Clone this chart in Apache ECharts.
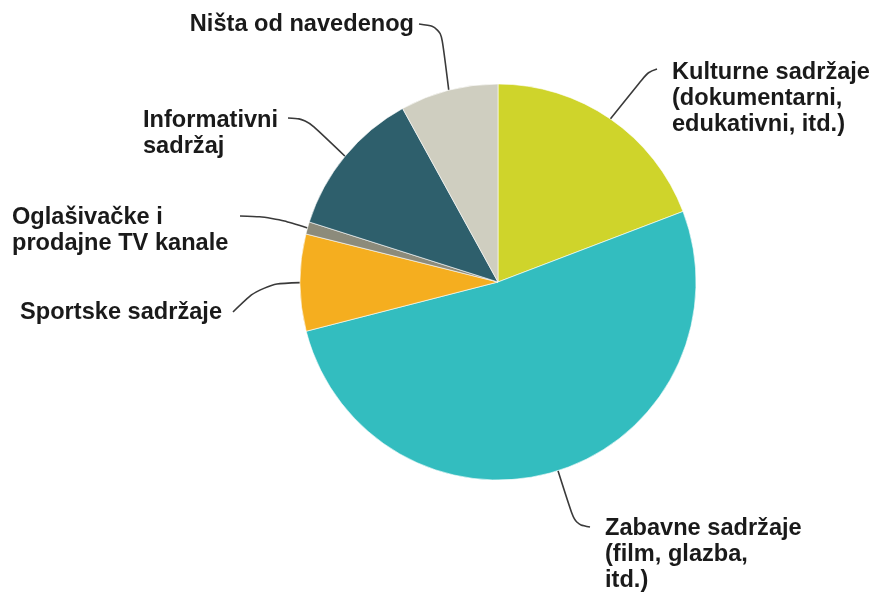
<!DOCTYPE html>
<html>
<head>
<meta charset="utf-8">
<style>
  html, body { margin: 0; padding: 0; background: #ffffff; }
  #chart { width: 875px; height: 593px; }
</style>
<script src="https://cdn.jsdelivr.net/npm/echarts@6/dist/echarts.min.js"></script>
</head>
<body>
<div id="chart"></div>
<script>
// Categories (label text, line breaks as drawn) and their shares in percent
const categories = [
  'Kulturne sadržaje\n(dokumentarni,\nedukativni, itd.)',
  'Zabavne sadržaje\n(film, glazba,\nitd.)',
  'Sportske sadržaje',
  'Oglašivačke i\nprodajne TV kanale',
  'Informativni\nsadržaj',
  'Ništa od navedenog'
];
const shares = [19.2, 51.8, 7.9, 1.0, 12.1, 8.0];
const sliceColors = ['#CFD42B', '#33BDBF', '#F5AE1F', '#8C8B7B', '#2E5F6C', '#CFCEC0'];

// Where each label's text block sits and how its leader line bends toward it
const labelSpots = [
  { x: 672, y: 59,  align: 'left',  elbow: [648, 72],  end: [657, 69] },
  { x: 605, y: 515, align: 'left',  elbow: [575, 524], end: [590, 527] },
  { x: 222, y: 299, align: 'right', elbow: [262, 284], end: [233, 312] },
  { x: 12,  y: 204, align: 'left',  elbow: [272, 217], end: [240, 216] },
  { x: 143, y: 107, align: 'left',  elbow: [306, 119], end: [288, 118] },
  { x: 414, y: 11,  align: 'right', elbow: [441, 27],  end: [419, 24] }
];

const chart = echarts.init(document.getElementById('chart'), null, { renderer: 'canvas' });

chart.setOption({
  animation: false,
  backgroundColor: '#ffffff',
  series: [{
    type: 'pie',
    center: [498, 282],
    radius: 198,
    startAngle: 90,
    clockwise: true,
    avoidLabelOverlap: false,
    itemStyle: { borderColor: '#ffffff', borderWidth: 0.6 },
    label: {
      show: true,
      position: 'outside',
      formatter: '{b}',
      color: '#1a1a1a',
      fontFamily: '"Liberation Sans", Arial, sans-serif',
      fontWeight: 'bold',
      fontSize: 23.6,
      lineHeight: 26
    },
    labelLine: {
      show: true,
      smooth: 0.35,
      length: 40,
      length2: 20,
      lineStyle: { color: '#3a3a3a', width: 1.6 }
    },
    labelLayout: function (params) {
      const s = labelSpots[params.dataIndex];
      const p0 = params.labelLinePoints ? params.labelLinePoints[0] : s.elbow;
      return {
        x: s.x,
        y: s.y,
        align: s.align,
        verticalAlign: 'top',
        labelLinePoints: [[p0[0], p0[1]], s.elbow, s.end]
      };
    },
    data: categories.map((name, i) => ({
      name: name,
      value: shares[i],
      itemStyle: { color: sliceColors[i] }
    }))
  }]
});
</script>
</body>
</html>
